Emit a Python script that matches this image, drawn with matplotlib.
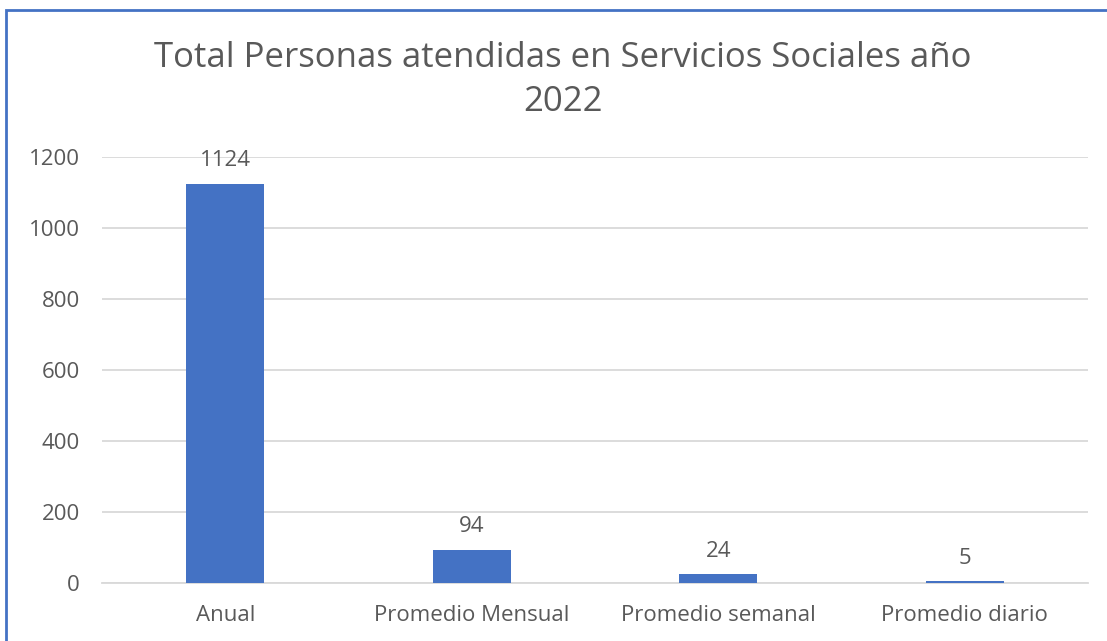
import matplotlib
matplotlib.use("Agg")
import matplotlib.pyplot as plt
from matplotlib.patches import Rectangle

categories = ["Anual", "Promedio Mensual", "Promedio semanal", "Promedio diario"]
values = [1124, 94, 24, 5]
yticks = [0, 200, 400, 600, 800, 1000, 1200]
title = "Total Personas atendidas en Servicios Sociales año\n2022"

plt.rcParams['font.family'] = ['Open Sans', 'DejaVu Sans']
txt = '#595959'

fig = plt.figure(figsize=(11.07, 6.41), dpi=100)
ax = fig.add_axes([102/1107, 1-583/641, (1088-102)/1107, (583-157)/641])

x = list(range(len(categories)))
bars = ax.bar(x, values, width=0.316, color='#4472C4', zorder=3)
for xi, v in zip(x, values):
    ax.annotate(str(v), (xi, v), xytext=(0, 9), textcoords='offset points',
                ha='center', va='bottom', fontsize=16, color=txt)

ax.set_xlim(-0.5, 3.5)
ax.set_ylim(0, 1200)
ax.set_yticks(yticks)
ax.set_xticks(x)
ax.set_xticklabels(categories)
ax.tick_params(axis='both', length=0, labelsize=16, labelcolor=txt)
ax.tick_params(axis='y', pad=16)
ax.tick_params(axis='x', pad=16)
ax.grid(axis='y', color='#d9d9d9', linewidth=1.3, zorder=0)
for s in ['top', 'right', 'left']:
    ax.spines[s].set_visible(False)
ax.spines['bottom'].set_color('#d9d9d9')
ax.spines['bottom'].set_linewidth(1.3)

fig.text(563/1107, 1-80/641, title, ha='center', va='center', fontsize=25,
         color=txt, linespacing=1.42)

fig.patches.append(Rectangle((6/1107, -0.1), 1.2, 1-10/641+0.1, transform=fig.transFigure,
                             fill=False, edgecolor='#4472C4', linewidth=2))

fig.savefig('out.png', dpi=100)
